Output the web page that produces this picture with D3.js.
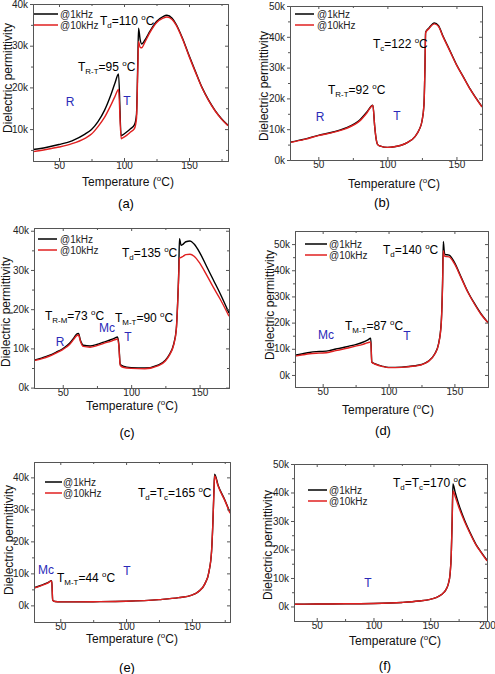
<!DOCTYPE html>
<html><head><meta charset="utf-8">
<script src="https://cdn.jsdelivr.net/npm/d3@7"></script>
<style>
body{margin:0;background:#fff}
text{font-family:"Liberation Sans",Arial,sans-serif}
</style>
</head><body>
<svg id="c" width="495" height="674"></svg>
<script>
// ---------------- DATA (permittivity in thousands) ----------------
const seriesNames = ["@1kHz", "@10kHz"];
const xTickLabels = [50, 100, 150];
const xTickLabelsF = [50, 100, 150, 200];

// (a)
const aTemp = [30,40,50,60,70,75,80,85,90,93,95.8,97.8,99,102,105,108,109.6,110.6,111.2,112.4,113.6,116,120,125,130,133,137,140,145,150,155,160,165,170,175,180];
const a1k   = [5.1,5.6,6.3,7.2,8.8,9.9,11.8,14.5,18.3,21,23.2,8.4,8.6,9.3,10.1,11.0,13.5,26,34.2,31.5,30.4,31.3,33.5,35.8,37,37.3,36.6,35.2,31.8,27.7,23.8,20,17,14.5,12.5,10.9];
const a10k  = [4.6,5.1,5.7,6.5,7.8,8.8,10.6,12.8,15.8,17.8,19.5,7.7,7.9,8.5,9.3,10.1,12.5,24,31,29.6,29.5,30.8,33.2,35.5,36.6,36.9,36.3,35.0,31.6,27.5,23.6,19.9,16.9,14.4,12.4,10.8];
// (b)
const bTemp = [29.5,40,50,60,70,80,85,89.5,90.8,91.8,93,95,100,105,110,115,120,123,125,126.5,127.2,127.7,130,134,137,140,145,150,155,160,168.5];
const b1k   = [5.8,6.8,8.0,9.0,10.4,13,15.5,17.8,11,7,5,4.5,4.1,4.3,4.8,5.8,7.6,9.8,12.5,18,30,41.5,42.8,44.5,43.6,40.5,35.8,31,27,23,17.3];
const b10k  = [5.7,6.7,7.9,8.9,10.2,12.7,15.2,17.7,11,7,5,4.5,4.1,4.3,4.8,5.8,7.6,9.8,12.5,18,30,41.3,42.6,44.2,43.4,40.3,35.6,30.9,26.9,22.9,17.2];
// (c)
const cTemp = [29,35,40,45,50,55,58,60,61.5,63,65,70,75,80,85,88,90,91,92,94,100,110,120,125,128,131,133,134,134.8,135.3,136.5,138,140,143,146,150,155,160,165,171.5];
const c1k   = [7.0,7.6,8.2,9.0,9.9,11.3,12.6,13.6,13.8,12.0,10.8,10.6,11.0,11.6,12.2,12.6,12.9,11,6,5.5,5.1,5.0,5.8,7,8.5,11,15,22,30,38,36.3,36.6,37.2,37.4,36.6,34.5,31,27.5,24,19];
const c10k  = [6.9,7.4,8.0,8.8,9.7,11.0,12.3,13.2,13.4,11.7,10.5,10.3,10.7,11.3,11.8,12.2,12.4,10.6,5.7,5.2,4.9,4.8,5.6,6.8,8.3,10.8,14.8,21.5,29,33,33.2,33.5,33.9,34,33.5,31.8,28.8,25.6,22.6,18.2];
// (d)
const dTemp = [29,35,40,45,50,55,60,65,70,75,80,84,86.5,87.3,88.5,90,95,100,110,120,125,130,135,138,140,141,141.6,142.3,143,146,150,155,160,165,170,175.5];
const d1k   = [7.5,8.1,8.6,8.9,9.0,9.3,9.9,10.4,11.0,11.6,12.4,13.3,14,5,4.5,4.2,3.4,2.9,3.0,3.5,4.0,5.2,8,12,20,35,51,47,46,45.8,43,37.5,32,27.5,23.5,20];
const d10k  = [7.2,7.7,8.1,8.3,8.4,8.7,9.3,9.8,10.4,11.0,11.6,12.3,12.6,4.8,4.4,4.1,3.3,2.8,2.9,3.4,3.9,5.1,7.9,11.8,19.5,34,47.5,45.5,45.3,45.1,42.5,37.2,31.8,27.3,23.3,19.9];
// (e)
const eTemp = [30,35,40,43.5,44.2,46,50,60,75,100,125,140,150,155,160,163,165,166,166.8,167.3,170,175,179];
const e1k   = [5.5,6.2,7.0,7.7,1.6,1.2,1.1,1.1,1.15,1.3,1.8,2.4,3.2,4.3,6.8,10.5,17,26,36,41,37.5,33,29];
const e10k  = [5.4,6.1,6.9,7.6,1.6,1.2,1.1,1.1,1.15,1.3,1.8,2.4,3.2,4.3,6.8,10.5,17,26,35.5,40.5,37.2,32.8,28.8];
// (f)
const fTemp = [30,50,75,100,125,140,150,155,160,164,166,167.5,168.5,169.3,170,172,175,180,185,190,195,200];
const f1k   = [0.8,0.85,0.95,1.05,1.4,1.9,2.5,3.1,4.2,6,8,11.5,18,30,43,40,36,30.5,26,22,19,16.2];
const f10k  = [0.8,0.85,0.95,1.05,1.4,1.9,2.5,3.1,4.2,6,8,11.5,18,30,40.5,38.5,35,30,25.7,21.8,18.8,16];

// ---------------- LAYOUT ----------------
const panels = [
 {id:"a", temp:aTemp, s1:a1k, s2:a10k, xDom:[30,180], yDom:[2.35,40], rect:[33,4,228,161],
  yMajor:[10,20,30,40], yMinor:[5,15,25,35], xMajor:xTickLabels, xMinor:[75,125,175],
  leg:{x1:34,x2:58,y:14,tx:60}, cap:{x:126,y:208,t:"(a)"}, xt:{x:128,y:186}, yt:{x:8,y:78},
  ann:[{x:100,y:25,p:[["T"],["d","sub"],["=110 "],["o","sup"],["C"]]},
       {x:78,y:71,p:[["T"],["R-T","sub"],["=95 "],["o","sup"],["C"]]}],
  ph:[{x:70,y:106,t:"R"},{x:127,y:105,t:"T"}]},
 {id:"b", temp:bTemp, s1:b1k, s2:b10k, xDom:[29.5,168.5], yDom:[0,50], rect:[290,6,482,160],
  yMajor:[0,10,20,30,40,50], yMinor:[5,15,25,35,45], xMajor:xTickLabels, xMinor:[75,125],
  leg:{x1:295,x2:314,y:14,tx:317}, cap:{x:382,y:207,t:"(b)"}, xt:{x:394,y:188}, yt:{x:264,y:86},
  ann:[{x:373,y:48,p:[["T"],["c","sub"],["=122 "],["o","sup"],["C"]]},
       {x:328,y:94,p:[["T"],["R-T","sub"],["=92 "],["o","sup"],["C"]]}],
  ph:[{x:320,y:121,t:"R"},{x:397,y:120,t:"T"}]},
 {id:"c", temp:cTemp, s1:c1k, s2:c10k, xDom:[29,171.5], yDom:[-0.1,40.7], rect:[34,228,229,388],
  yMajor:[0,10,20,30,40], yMinor:[5,15,25,35], xMajor:xTickLabels, xMinor:[75,125],
  leg:{x1:38,x2:57,y:239,tx:60}, cap:{x:127,y:437,t:"(c)"}, xt:{x:132,y:410}, yt:{x:6,y:312},
  ann:[{x:122,y:257,p:[["T"],["d","sub"],["=135 "],["o","sup"],["C"]]},
       {x:45,y:320,p:[["T"],["R-M","sub"],["=73 "],["o","sup"],["C"]]},
       {x:115,y:322,p:[["T"],["M-T","sub"],["=90 "],["o","sup"],["C"]]}],
  ph:[{x:107,y:332,t:"Mc"},{x:60,y:346,t:"R"},{x:128,y:341,t:"T"}]},
 {id:"d", temp:dTemp, s1:d1k, s2:d10k, xDom:[29,175.5], yDom:[-4.6,55], rect:[295,231,488,387],
  yMajor:[0,10,20,30,40,50], yMinor:[5,15,25,35,45], xMajor:xTickLabels, xMinor:[75,125],
  leg:{x1:305,x2:327,y:244,tx:329}, cap:{x:383,y:435,t:"(d)"}, xt:{x:388,y:414}, yt:{x:270,y:305},
  ann:[{x:383,y:254,p:[["T"],["d","sub"],["=140 "],["o","sup"],["C"]]},
       {x:345,y:330,p:[["T"],["M-T","sub"],["=87 "],["o","sup"],["C"]]}],
  ph:[{x:326,y:339,t:"Mc"},{x:407,y:340,t:"T"}]},
 {id:"e", temp:eTemp, s1:e1k, s2:e10k, xDom:[30,179], yDom:[-5.2,44.8], rect:[34,462,230,622],
  yMajor:[0,10,20,30,40], yMinor:[5,15,25,35], xMajor:xTickLabels, xMinor:[75,125,175],
  leg:{x1:45,x2:62,y:482,tx:63}, cap:{x:127,y:672,t:"(e)"}, xt:{x:132,y:643}, yt:{x:9,y:540},
  ann:[{x:138,y:497,p:[["T"],["d","sub"],["=T"],["c","sub"],["=165 "],["o","sup"],["C"]]},
       {x:57,y:582,p:[["T"],["M-T","sub"],["=44 "],["o","sup"],["C"]]}],
  ph:[{x:46,y:574,t:"Mc"},{x:127,y:575,t:"T"}]},
 {id:"f", temp:fTemp, s1:f1k, s2:f10k, xDom:[30,200], yDom:[-5.1,50], rect:[294,464,487,621],
  yMajor:[0,10,20,30,40,50], yMinor:[5,15,25,35,45], xMajor:xTickLabelsF, xMinor:[75,125,175],
  leg:{x1:308,x2:327,y:490,tx:329}, cap:{x:385,y:670,t:"(f)"}, xt:{x:395,y:645}, yt:{x:268,y:545},
  ann:[{x:393,y:487,p:[["T"],["d","sub"],["=T"],["c","sub"],["=170 "],["o","sup"],["C"]]}],
  ph:[{x:368,y:587,t:"T"}]}
];

const BLACK = "#000", RED = "#e02020", BLUE = "#2a2ab8", AX = "#555";
const svg = d3.select("#c");

function rich(sel, x, y, parts, size, anchor, fill) {
  const t = sel.append("text").attr("x", x).attr("y", y).attr("font-size", size)
    .attr("fill", fill || "#000").attr("text-anchor", anchor || "start").style("white-space", "pre");
  let cur = 0;
  parts.forEach(([s, type]) => {
    const target = type === "sub" ? 3 : type === "sup" ? -5 : 0;
    const ts = t.append("tspan").text(s).attr("dy", target - cur);
    cur = target;
    if (type) ts.attr("font-size", size * 0.66);
  });
  return t;
}

function styleAxis(g) {
  g.select(".domain").attr("stroke", AX).attr("stroke-width", 1);
  g.selectAll(".tick line").attr("stroke", AX);
  g.selectAll(".tick text").attr("font-size", 10).attr("fill", "#222")
    .attr("font-family", "Liberation Sans, Arial, sans-serif");
}

panels.forEach(p => {
  const [x0, y0, x1, y1] = p.rect;
  const x = d3.scaleLinear().domain(p.xDom).range([x0, x1]);
  const y = d3.scaleLinear().domain(p.yDom).range([y1, y0]);
  const g = svg.append("g");
  const cid = "clip-" + p.id;
  svg.append("clipPath").attr("id", cid).append("rect")
    .attr("x", x0).attr("y", y0).attr("width", x1 - x0).attr("height", y1 - y0);

  const line = d3.line().x((d, i) => x(p.temp[i])).y(d => y(d)).curve(d3.curveMonotoneX);
  const cg = g.append("g").attr("clip-path", `url(#${cid})`);
  cg.append("path").datum(p.s1).attr("d", line).attr("fill", "none").attr("stroke", BLACK).attr("stroke-width", 1.4);
  cg.append("path").datum(p.s2).attr("d", line).attr("fill", "none").attr("stroke", RED).attr("stroke-width", 1.4);

  const fmt = d => d + "k";
  // bottom
  g.append("g").attr("transform", `translate(0,${y1})`)
    .call(d3.axisBottom(x).tickValues(p.xMajor).tickSize(-3).tickSizeOuter(0).tickPadding(1)).call(styleAxis);
  g.append("g").attr("transform", `translate(0,${y1})`)
    .call(d3.axisBottom(x).tickValues(p.xMinor).tickSize(-2).tickSizeOuter(0).tickFormat("")).call(styleAxis);
  // top
  g.append("g").attr("transform", `translate(0,${y0})`)
    .call(d3.axisTop(x).tickValues(p.xMajor).tickSize(-3).tickSizeOuter(0).tickFormat("")).call(styleAxis);
  g.append("g").attr("transform", `translate(0,${y0})`)
    .call(d3.axisTop(x).tickValues(p.xMinor).tickSize(-2).tickSizeOuter(0).tickFormat("")).call(styleAxis);
  // left
  g.append("g").attr("transform", `translate(${x0},0)`)
    .call(d3.axisLeft(y).tickValues(p.yMajor).tickSize(3).tickSizeOuter(0).tickPadding(2).tickFormat(fmt)).call(styleAxis);
  g.append("g").attr("transform", `translate(${x0},0)`)
    .call(d3.axisLeft(y).tickValues(p.yMinor).tickSize(2).tickSizeOuter(0).tickFormat("")).call(styleAxis);
  // right
  g.append("g").attr("transform", `translate(${x1},0)`)
    .call(d3.axisRight(y).tickValues(p.yMajor).tickSize(-3).tickSizeOuter(0).tickFormat("")).call(styleAxis);
  g.append("g").attr("transform", `translate(${x1},0)`)
    .call(d3.axisRight(y).tickValues(p.yMinor).tickSize(-2).tickSizeOuter(0).tickFormat("")).call(styleAxis);

  // legend
  const L = p.leg;
  [BLACK, RED].forEach((c, i) => {
    const yy = L.y + i * 11;
    g.append("line").attr("x1", L.x1).attr("x2", L.x2).attr("y1", yy).attr("y2", yy)
      .attr("stroke", c).attr("stroke-width", 1.5);
    g.append("text").attr("x", L.tx).attr("y", yy + 3.5).attr("font-size", 10).attr("fill", "#222")
      .text(seriesNames[i]);
  });

  // annotations
  p.ann.forEach(a => rich(g, a.x, a.y, a.p, 12));
  p.ph.forEach(a => g.append("text").attr("x", a.x).attr("y", a.y).attr("text-anchor", "middle")
    .attr("font-size", 12).attr("fill", BLUE).text(a.t));

  // axis titles
  rich(g, p.xt.x, p.xt.y, [["Temperature ("], ["o", "sup"], ["C)"]], 12, "middle", "#111");
  g.append("text").attr("transform", `translate(${p.yt.x},${p.yt.y}) rotate(-90)`)
    .attr("text-anchor", "middle").attr("dy", "0.35em").attr("font-size", 12).attr("fill", "#111")
    .text("Dielectric permittivity");
  // caption
  g.append("text").attr("x", p.cap.x).attr("y", p.cap.y).attr("text-anchor", "middle")
    .attr("font-size", 13).attr("font-family", "Liberation Serif, Times New Roman, serif").text(p.cap.t);
});
</script>
</body></html>
